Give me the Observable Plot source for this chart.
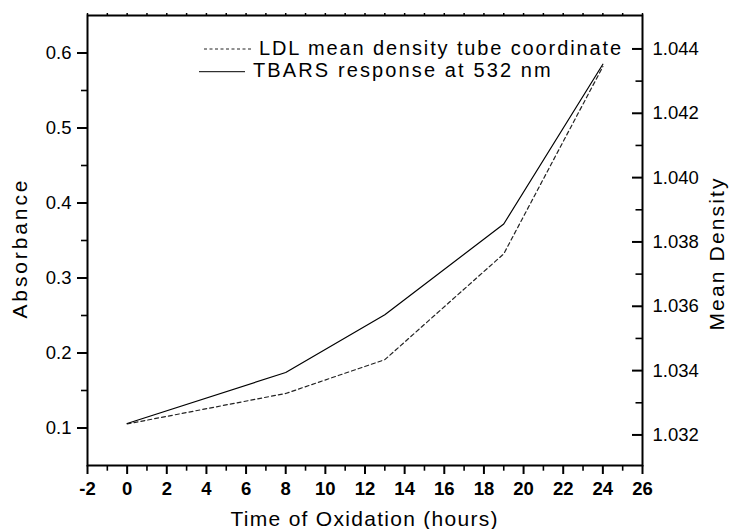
<!DOCTYPE html>
<html><head><meta charset="utf-8">
<script src="https://cdn.jsdelivr.net/npm/d3@7"></script>
<script src="https://cdn.jsdelivr.net/npm/@observablehq/plot@0.6"></script>
<style>
body{margin:0;background:#fff}
svg{font-family:"Liberation Sans",Arial,sans-serif}
</style>
</head><body><div id="chart"></div>
<script>
// ---- data ----
const hours = [0, 8, 13, 19, 24];
const absorbance = [0.106, 0.174, 0.251, 0.372, 0.585];          // TBARS response (left axis)
const meanDensity = [1.03234, 1.03329, 1.03434, 1.03763, 1.04345]; // LDL mean density (right axis)
const seriesNames = ["LDL mean density tube coordinate", "TBARS response at 532 nm"];

const xTicks = [-2, 0, 2, 4, 6, 8, 10, 12, 14, 16, 18, 20, 22, 24, 26];
const xMinor = [-1, 1, 3, 5, 7, 9, 11, 13, 15, 17, 19, 21, 23, 25];
const xTop = [-2,-1,0,1,2,3,4,5,6,7,8,9,10,11,12,13,14,15,16,17,18,19,20,21,22,23,24,25,26];
const absTicks = [0.1, 0.2, 0.3, 0.4, 0.5, 0.6];
const absMinor = [0.15, 0.25, 0.35, 0.45, 0.55];
const densTicks = [1.032, 1.034, 1.036, 1.038, 1.040, 1.042, 1.044];
const densMinor = [1.033, 1.035, 1.037, 1.039, 1.041, 1.043];

const xTitle = "Time of Oxidation (hours)";
const yLeftTitle = "Absorbance";
const yRightTitle = "Mean Density";

const absDomain = [0.05, 0.65];
const densDomain = [1.03105, 1.04504];
// right axis expressed on the left-axis scale
const densToAbs = d3.scaleLinear(densDomain, absDomain);

const data = hours.map((h, i) => ({h, a: absorbance[i], d: densToAbs(meanDensity[i])}));

const W = 729, H = 529, ML = 87, MR = 87, MT = 15, MB = 64;
const FW = W - ML - MR, FH = H - MT - MB;
const font = '"Liberation Sans", Arial, sans-serif';

const plot = Plot.plot({
  width: W, height: H,
  marginLeft: ML, marginRight: MR, marginTop: MT, marginBottom: MB,
  x: {domain: [-2, 26], axis: null},
  y: {domain: absDomain, axis: null},
  style: {fontFamily: font, fontSize: "18px", color: "#000", background: "#fff"},
  marks: [
    Plot.line(data, {x: "h", y: "d", stroke: "#222", strokeWidth: 1.2, strokeDasharray: "4,3"}),
    Plot.line(data, {x: "h", y: "a", stroke: "#000", strokeWidth: 1.2}),
    // left axis: outward ticks
    Plot.tickY(absTicks, {y: d => d, insetLeft: -10, insetRight: FW, stroke: "#000", strokeWidth: 2}),
    Plot.tickY(absMinor, {y: d => d, insetLeft: -6, insetRight: FW, stroke: "#000", strokeWidth: 1.6}),
    Plot.text(absTicks, {y: d => d, frameAnchor: "left", dx: -16, textAnchor: "end", text: d => d.toFixed(1), fontSize: 18.5, fill: "#000"}),
    // right axis: inward ticks
    Plot.tickY(densTicks.map(densToAbs), {y: d => d, insetLeft: FW - 10, insetRight: 0, stroke: "#000", strokeWidth: 2}),
    Plot.tickY(densMinor.map(densToAbs), {y: d => d, insetLeft: FW - 6.5, insetRight: 0, stroke: "#000", strokeWidth: 1.6}),
    Plot.text(densTicks, {y: d => densToAbs(d), frameAnchor: "right", dx: 10, textAnchor: "start", text: d => d.toFixed(3), fontSize: 18.5, fill: "#000"}),
    // bottom axis: outward ticks
    Plot.tickX(xTicks, {x: d => d, insetTop: FH, insetBottom: -9, stroke: "#000", strokeWidth: 2}),
    Plot.tickX(xMinor, {x: d => d, insetTop: FH, insetBottom: -5.7, stroke: "#000", strokeWidth: 1.6}),
    Plot.text(xTicks, {x: d => d, frameAnchor: "bottom", dy: 16.5, lineAnchor: "top", text: d => String(d), fontSize: 18.5, fontWeight: "bold", fill: "#000"}),
    // top axis: tiny ticks
    Plot.tickX(xTop, {x: d => d, insetTop: -2, insetBottom: FH, stroke: "#000", strokeWidth: 1.5}),
    Plot.frame({strokeWidth: 2, stroke: "#000"}),
    // titles (start-anchored so the stretch below grows from a known point)
    Plot.text([xTitle], {frameAnchor: "bottom-left", dx: 143, dy: 60, textAnchor: "start", lineAnchor: "bottom", fontSize: 21, fill: "#000"}),
    Plot.text([yLeftTitle], {frameAnchor: "left", rotate: -90, dx: -60.3, dy: 78, textAnchor: "start", lineAnchor: "bottom", fontSize: 21, fill: "#000"}),
    Plot.text([yRightTitle], {frameAnchor: "right", rotate: -90, dx: 67, dy: 90, textAnchor: "start", lineAnchor: "top", fontSize: 21, fill: "#000"})
  ]
});

document.getElementById("chart").appendChild(plot);

// stretch titles to match reference widths
const svg = d3.select(plot);
const stretch = {[xTitle]: 267, [yLeftTitle]: 138, [yRightTitle]: 152};
svg.selectAll("text").each(function() {
  const t = this.textContent;
  if (stretch[t]) d3.select(this).attr("textLength", stretch[t]).attr("lengthAdjust", "spacing");
});

// legend inside the plot
const lg = svg.append("g").attr("font-size", 20).attr("fill", "#000").attr("font-family", font).attr("text-anchor", "start");
lg.append("line").attr("x1", 204).attr("x2", 251).attr("y1", 49).attr("y2", 49)
  .attr("stroke", "#222").attr("stroke-width", 1).attr("stroke-dasharray", "3,2.5");
lg.append("text").attr("x", 259).attr("y", 55).text(seriesNames[0])
  .attr("textLength", 362).attr("lengthAdjust", "spacing");
lg.append("line").attr("x1", 199).attr("x2", 245).attr("y1", 71.7).attr("y2", 71.7)
  .attr("stroke", "#000").attr("stroke-width", 1);
lg.append("text").attr("x", 253).attr("y", 77).text(seriesNames[1])
  .attr("textLength", 297.7).attr("lengthAdjust", "spacing");
</script>
</body></html>
